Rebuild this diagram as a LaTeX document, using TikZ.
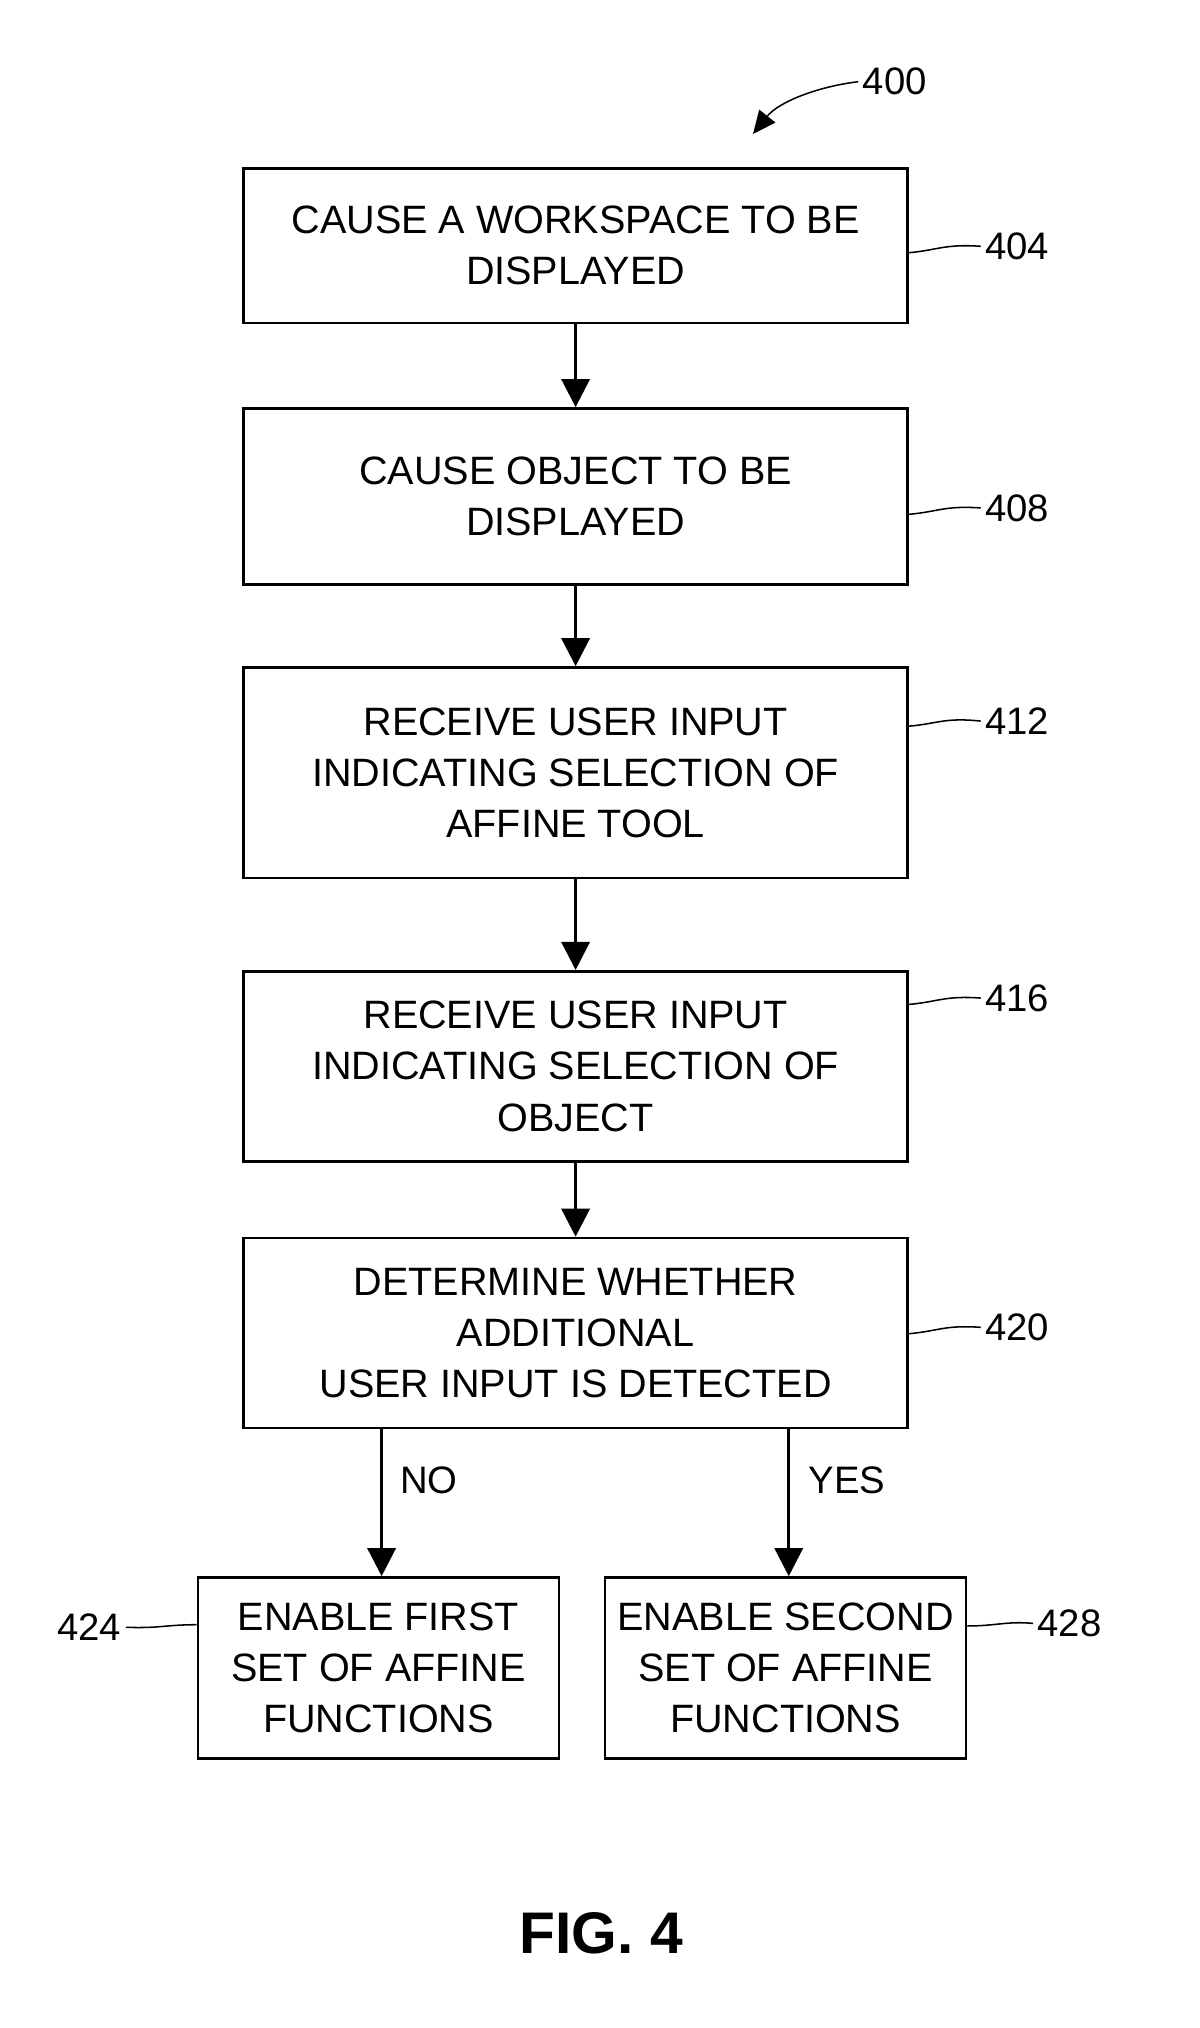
\documentclass[tikz,border=0pt]{standalone}
\usepackage{fontspec}
\setmainfont{Liberation Sans}
\usetikzlibrary{arrows.meta}
\begin{document}
\begin{tikzpicture}[x=1pt,y=-1pt,
  box/.style={draw,line width=2pt,align=center,inner sep=0pt,font=\fontsize{31}{40}\selectfont},
  lbl/.style={font=\fontsize{30}{34}\selectfont},
  arr/.style={line width=2.6pt,-{Triangle[length=22pt,width=22pt]}},
  lead/.style={line width=1.2pt}]
\useasboundingbox (0,0) rectangle (940,1589);
\node[box,minimum width=520pt,minimum height=121pt] (b1) at (451,192.5) {CAUSE A WORKSPACE TO BE\\DISPLAYED};
\node[box,minimum width=520pt,minimum height=138pt] (b2) at (451,389) {CAUSE OBJECT TO BE\\DISPLAYED};
\node[box,minimum width=520pt,minimum height=165pt] (b3) at (451,605.5) {RECEIVE USER INPUT\\INDICATING SELECTION OF\\AFFINE TOOL};
\node[box,minimum width=520pt,minimum height=149pt] (b4) at (451,835.5) {RECEIVE USER INPUT\\INDICATING SELECTION OF\\OBJECT};
\node[box,minimum width=520pt,minimum height=149pt] (b5) at (451,1044.5) {DETERMINE WHETHER\\ADDITIONAL\\USER INPUT IS DETECTED};
\node[box,minimum width=283pt,minimum height=142pt] (b6) at (296.5,1307) {ENABLE FIRST\\SET OF AFFINE\\FUNCTIONS};
\node[box,minimum width=283pt,minimum height=142pt] (b7) at (615.5,1307) {ENABLE SECOND\\SET OF AFFINE\\FUNCTIONS};
\draw[arr] (b1) -- (b2);
\draw[arr] (b2) -- (b3);
\draw[arr] (b3) -- (b4);
\draw[arr] (b4) -- (b5);
\coordinate (n1) at (299,1119.5); \coordinate (y1) at (618,1119.5);
\draw[arr] (n1) -- (b6.north -| n1);
\draw[arr] (y1) -- (b7.north -| y1);
\node[lbl,anchor=west] (no) at (310,1160) {NO};
\node[lbl,anchor=west] (yes) at (630,1160) {YES};
\node[lbl] (l404) at (797,193) {404};
\node[lbl] (l408) at (797,398) {408};
\node[lbl] (l412) at (797,565) {412};
\node[lbl] (l416) at (797,782) {416};
\node[lbl] (l420) at (797,1040) {420};
\node[lbl] (l424) at (70,1275) {424};
\node[lbl] (l428) at (838,1272) {428};
\node[lbl] (l400) at (701,64) {400};
\draw[lead] (b1.east |- 0,198) .. controls (735,196) and (740,191) .. (l404.west);
\draw[lead] (b2.east |- 0,403) .. controls (735,401) and (740,396) .. (l408.west);
\draw[lead] (b3.east |- 0,569) .. controls (735,567) and (740,562) .. (l412.west);
\draw[lead] (b4.east |- 0,787) .. controls (735,785) and (740,780) .. (l416.west);
\draw[lead] (b5.east |- 0,1045) .. controls (735,1043) and (740,1038) .. (l420.west);
\draw[lead] (b6.west |- 0,1273) .. controls (130,1273) and (125,1276) .. (l424.east);
\draw[lead] (b7.east |- 0,1274) .. controls (780,1274) and (790,1270) .. (l428.west);
\draw[lead,-{Triangle[length=18pt,width=16pt]}] (l400.west) .. controls (640,68) and (610,80) .. (590,105);
\node[font=\bfseries\fontsize{46}{50}\selectfont] (fig) at (471,1515) {FIG. 4};
\end{tikzpicture}
\end{document}
